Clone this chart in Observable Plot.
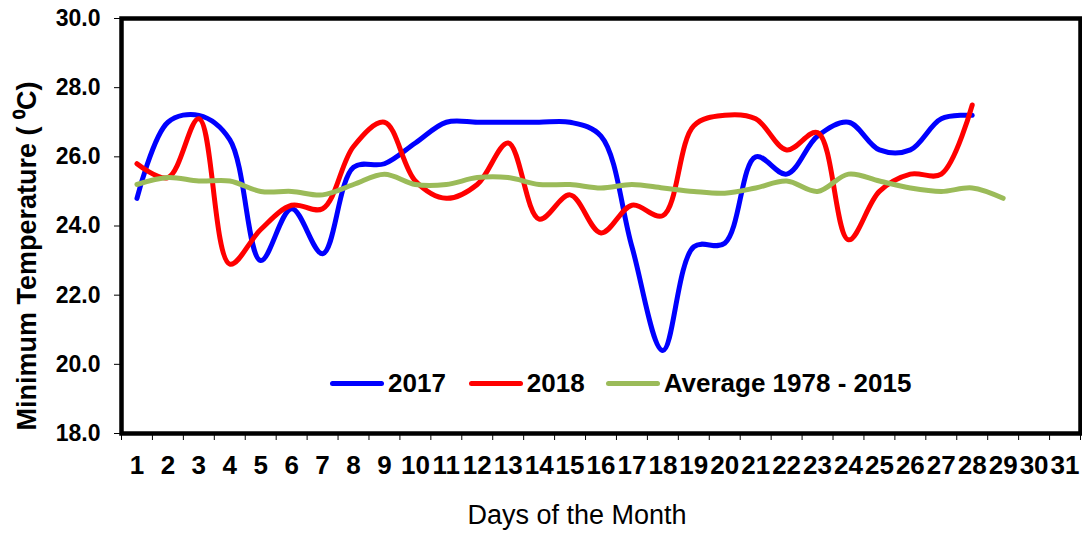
<!DOCTYPE html>
<html>
<head>
<meta charset="utf-8">
<script src="https://cdn.jsdelivr.net/npm/d3@7"></script>
<script src="https://cdn.jsdelivr.net/npm/@observablehq/plot@0.6"></script>
<style>
  html, body { margin: 0; padding: 0; background: #fff; }
  #wrap { position: relative; width: 1082px; height: 542px; font-family: "Liberation Sans", Arial, sans-serif; }
  #legend { position: absolute; top: 368px; left: 330px; display: flex; align-items: center; font-size: 26px; font-weight: bold; color: #000; white-space: nowrap; }
  #legend .item { display: flex; align-items: center; }
  #legend .sw { width: 54px; height: 5px; border-radius: 3px; margin-right: 4px; }
</style>
</head>
<body>
<div id="wrap"></div>
<script>
const days = d3.range(1, 32);
const yTicks = [18, 20, 22, 24, 26, 28, 30];
const t2017 = [24.8, 27.0, 27.2, 26.5, 23.0, 24.5, 23.2, 25.7, 25.8, 26.4, 27.0, 27.0, 27.0, 27.0, 27.0, 26.6, 23.4, 20.4, 23.4, 23.5, 26.0, 25.5, 26.6, 27.0, 26.2, 26.2, 27.1, 27.2];
const t2018 = [25.8, 25.4, 27.1, 22.9, 23.9, 24.6, 24.5, 26.3, 27.0, 25.3, 24.8, 25.2, 26.4, 24.2, 24.9, 23.8, 24.6, 24.3, 26.9, 27.2, 27.1, 26.2, 26.7, 23.6, 25.0, 25.5, 25.5, 27.5];
const tAvg = [25.2, 25.4, 25.3, 25.3, 25.0, 25.0, 24.9, 25.2, 25.5, 25.2, 25.2, 25.4, 25.4, 25.2, 25.2, 25.1, 25.2, 25.1, 25.0, 24.95, 25.1, 25.3, 25.0, 25.5, 25.3, 25.1, 25.0, 25.1, 24.8];
const seriesNames = ["2017", "2018", "Average 1978 - 2015"];
const seriesColors = ["#0000FF", "#FF0000", "#9BBB59"];
const yTitle = "Minimum Temperature ( \u2070C)";
const xTitle = "Days of the Month";

const toRows = (vals) => vals.map((v, i) => ({day: days[i], value: v}));
const boundaries = [...days.map(d => d - 0.5), days[days.length - 1] + 0.5];
const allSeries = [t2017, t2018, tAvg];

const chart = Plot.plot({
  width: 1082,
  height: 542,
  marginLeft: 121,
  marginRight: 2,
  marginTop: 18,
  marginBottom: 109,
  x: {type: "linear", domain: [0.5, 31.5]},
  y: {domain: [18, 30]},
  style: {fontFamily: "'Liberation Sans', Arial, sans-serif", background: "white", overflow: "visible", color: "black"},
  marks: [
    Plot.axisY({ticks: yTicks, tickFormat: d => d.toFixed(1), tickSize: 7, tickPadding: 14, fontSize: 23, fontWeight: "bold", label: null}),
    Plot.axisX({ticks: days, tickSize: 0, tickPadding: 22, fontSize: 26, fontWeight: "bold", label: null, tickFormat: d => String(d)}),
    Plot.axisX({ticks: boundaries, tickSize: 7, tickFormat: () => "", label: null}),
    ...allSeries.map((vals, i) => Plot.line(toRows(vals), {x: "day", y: "value", stroke: seriesColors[i], strokeWidth: 5, curve: "catmull-rom", strokeLinecap: "round"})),
    Plot.frame({stroke: "black", strokeWidth: 4.5}),
    Plot.text([yTitle], {text: d => d, frameAnchor: "left", textAnchor: "middle", rotate: -90, dx: -94, dy: 30, fontSize: 27, fontWeight: "bold"}),
    Plot.text([xTitle], {text: d => d, frameAnchor: "bottom", dy: 90, dx: -24, fontSize: 27})
  ]
});

const wrap = document.getElementById("wrap");
wrap.appendChild(chart);

const legend = document.createElement("div");
legend.id = "legend";
const gaps = [23, 21, 0];
seriesNames.forEach((name, i) => {
  const item = document.createElement("div");
  item.className = "item";
  item.style.marginRight = gaps[i] + "px";
  const sw = document.createElement("span");
  sw.className = "sw";
  sw.style.background = seriesColors[i];
  const label = document.createElement("span");
  label.textContent = name;
  item.appendChild(sw);
  item.appendChild(label);
  legend.appendChild(item);
});
wrap.appendChild(legend);
</script>
</body>
</html>
